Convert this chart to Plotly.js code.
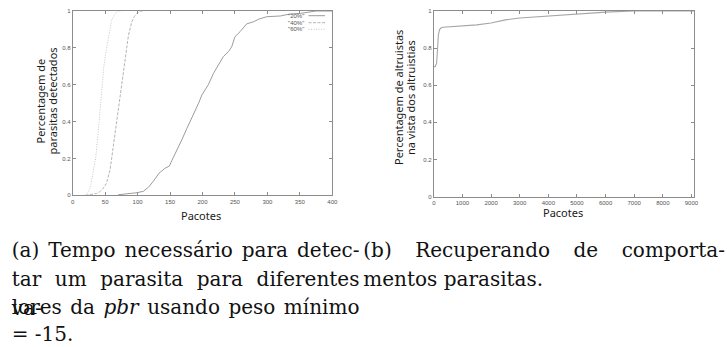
<!DOCTYPE html>
<html><head><meta charset="utf-8">
<script src="https://cdn.plot.ly/plotly-3.0.1.min.js"></script>
<style>html,body{margin:0;padding:0;background:#fff}</style>
</head><body><div id="chart"></div>
<div id="caps"></div>
<script>
// ---- data ----
const x20 = [70, 99, 109, 117, 124, 133, 142, 149, 153, 160, 168, 176, 186, 194, 199, 209, 217, 225, 232, 240, 245, 250, 258, 268, 279, 286, 299, 320, 335, 351, 366, 375, 400];
const p20 = [0.003, 0.014, 0.022, 0.045, 0.075, 0.12, 0.146, 0.159, 0.19, 0.246, 0.30, 0.363, 0.436, 0.50, 0.544, 0.60, 0.662, 0.707, 0.752, 0.78, 0.806, 0.86, 0.888, 0.93, 0.942, 0.955, 0.969, 0.973, 0.984, 0.987, 0.993, 1.0, 1.0];
const x40 = [20, 30, 37, 42, 47, 52, 55, 57.5, 60, 65, 70, 73, 76, 80, 83, 86, 91, 95, 99, 104, 110];
const p40 = [0, 0.004, 0.01, 0.02, 0.038, 0.065, 0.10, 0.137, 0.2, 0.33, 0.47, 0.55, 0.64, 0.74, 0.80, 0.87, 0.94, 0.97, 0.987, 1.0, 1.0];
const x60 = [19, 23, 26.7, 29, 31.8, 35.4, 40, 43, 46, 48, 52.4, 56, 60, 65, 70, 75];
const p60 = [0, 0.015, 0.038, 0.08, 0.119, 0.2, 0.37, 0.5, 0.6, 0.7, 0.8, 0.88, 0.95, 0.985, 1.0, 1.0];
const seriesNames = ['"20%"', '"40%"', '"60%"'];

const xAlt = [0, 50, 100, 130, 160, 200, 250, 320, 1000, 1500, 2000, 2500, 3000, 3500, 4000, 5000, 6000, 6600, 7000, 9100];
const pAlt = [0.70, 0.70, 0.72, 0.80, 0.87, 0.90, 0.908, 0.912, 0.918, 0.925, 0.935, 0.952, 0.962, 0.968, 0.974, 0.984, 0.994, 0.998, 1.0, 1.0];

const xTitle = 'Pacotes';
const yTitleA = ['Percentagem de', 'parasitas detectados'];
const yTitleB = ['Percentagem de altruistas', 'na vista dos altruistias'];
const captionA = ['(a) Tempo necessário para detec-', 'tar um parasita para diferentes va-', 'lores da <i>pbr</i> usando peso mínimo', '= -15.'];
const captionB = ['(b) Recuperando de comporta-', 'mentos parasitas.'];

// ---- layout helpers ----
const W = 727, H = 347;
const fx = v => v / W, fy = v => 1 - v / H;
const frame = '#8c8c8c';
const tickFont = {family:'Liberation Sans', size:6, color:'#555'};
const titleFont = {family:'Noto Sans', size:11, color:'#1a1a1a'};
const axisCommon = {showline:true, mirror:'ticks', linecolor:frame, linewidth:1, ticks:'inside', ticklen:3,
  tickcolor:frame, tickwidth:1, showgrid:false, zeroline:false, fixedrange:true, tickfont:tickFont};

const lineCol = ['#9c9c9c', '#b3b3b3', '#c6c6c6'];
const lineDash = ['solid', '3px,1.5px', '1px,1.5px'];
const traces = [
  {x:x20, y:p20, name:seriesNames[0], mode:'lines', line:{color:lineCol[0], width:1, dash:lineDash[0]}, xaxis:'x', yaxis:'y'},
  {x:x40, y:p40, name:seriesNames[1], mode:'lines', line:{color:lineCol[1], width:1, dash:lineDash[1]}, xaxis:'x', yaxis:'y'},
  {x:x60, y:p60, name:seriesNames[2], mode:'lines', line:{color:lineCol[2], width:1, dash:lineDash[2]}, xaxis:'x', yaxis:'y'},
  {x:xAlt, y:pAlt, mode:'lines', line:{color:'#a6a6a6', width:1.1}, xaxis:'x2', yaxis:'y2'}
];

const annotations = [];
const shapes = [];
function ann(text, x, y, font, extra) {
  const a = {text:text, x:fx(x), y:fy(y), xref:'paper', yref:'paper', showarrow:false,
    xanchor:'center', yanchor:'middle', font:font};
  if (extra) for (const k in extra) a[k] = extra[k];
  annotations.push(a);
}
// axis titles
ann(xTitle, 201, 215, titleFont);
ann(xTitle, 563, 212.5, titleFont);
ann(yTitleA[0], 39.5, 101, titleFont, {textangle:-90});
ann(yTitleA[1], 51.5, 101, titleFont, {textangle:-90});
ann(yTitleB[0], 398.5, 97.5, titleFont, {textangle:-90});
ann(yTitleB[1], 410.5, 97.5, titleFont, {textangle:-90});
// legend (gnuplot style: text then sample line)
const legY = [15.7, 22.7, 29.3];
seriesNames.forEach((n, i) => {
  ann(n, 306, legY[i], tickFont, {xanchor:'right'});
  shapes.push({type:'line', xref:'paper', yref:'paper', x0:fx(308.5), x1:fx(325), y0:fy(legY[i]), y1:fy(legY[i]),
    line:{color:lineCol[i], width:1, dash:lineDash[i]}});
});

const layout = {
  width:W, height:H, margin:{l:0, r:0, t:0, b:0}, paper_bgcolor:'#fff', plot_bgcolor:'#fff', showlegend:false,
  font:{family:'Liberation Sans'},
  xaxis:Object.assign({}, axisCommon, {domain:[fx(72.7), fx(332.3)], range:[0, 400], dtick:50, tick0:0, anchor:'y'}),
  yaxis:Object.assign({}, axisCommon, {domain:[fy(195.3), fy(11)], range:[0, 1], dtick:0.2, tick0:0, anchor:'x'}),
  xaxis2:Object.assign({}, axisCommon, {domain:[fx(433.8), fx(694.3)], range:[0, 9100], dtick:1000, tick0:0, anchor:'y2'}),
  yaxis2:Object.assign({}, axisCommon, {domain:[fy(196.5), fy(11)], range:[0, 1], dtick:0.2, tick0:0, anchor:'x2'}),
  annotations:annotations, shapes:shapes
};
Plotly.newPlot('chart', traces, layout, {staticPlot:true, displayModeBar:false});

// captions below the plots, justified like the LaTeX subcaptions
const baselines = [257.5, 286.5, 314.5, 342];
const capSize = 22;
const capBase = (29 - 1.107 * capSize) / 2 + 0.891 * capSize;
function caption(lines, left, width) {
  return lines.map((line, li) => {
    const last = li === lines.length - 1;
    const align = last ? 'text-align:left;white-space:nowrap;' : 'text-align:justify;text-align-last:justify;';
    return '<div style="position:absolute;font-family:\'DejaVu Serif\',\'Liberation Serif\',serif;font-size:' + (capSize - 2) + 'px;line-height:29px;height:29px;color:#111;' +
      align + 'left:' + left + 'px;width:' + width + 'px;top:' + (baselines[li] - capBase) + 'px">' + line + '</div>';
  }).join('');
}
document.getElementById('caps').innerHTML = caption(captionA, 11.7, 347.8) + caption(captionB, 363.3, 361.7);
</script>
</body></html>
